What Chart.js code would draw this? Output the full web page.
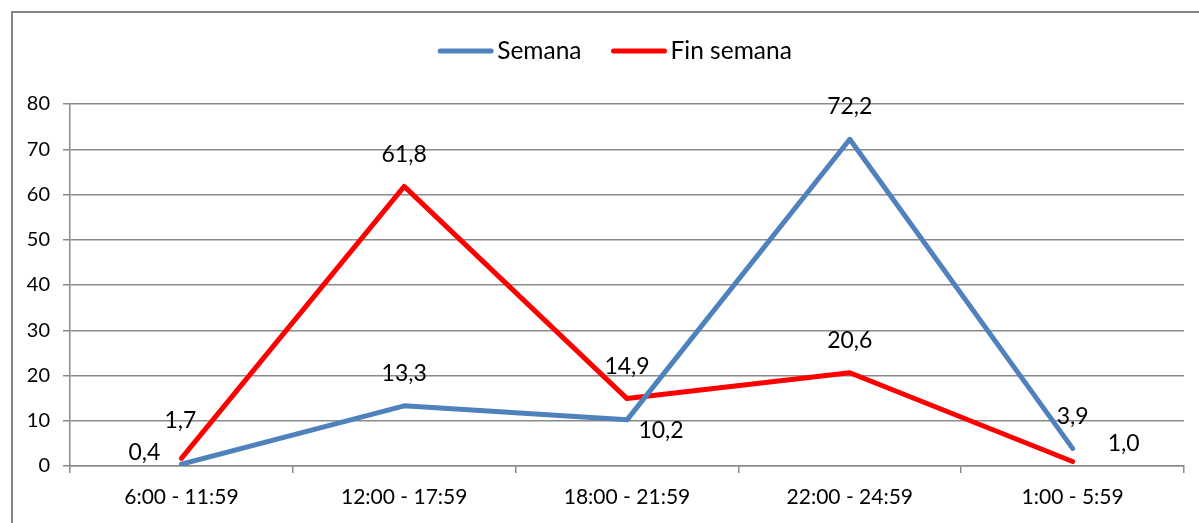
<!DOCTYPE html>
<html>
<head>
<meta charset="utf-8">
<script src="https://cdn.jsdelivr.net/npm/chart.js@4/dist/chart.umd.min.js"></script>
<style>
html,body{margin:0;padding:0;background:#fff;overflow:hidden;}
canvas{display:block;}
</style>
</head>
<body>
<canvas id="c" width="1199" height="523"></canvas>
<script>
// ---- data ----
const categories = ['6:00 - 11:59', '12:00 - 17:59', '18:00 - 21:59', '22:00 - 24:59', '1:00 - 5:59'];
const semanaValues = [0.4, 13.3, 10.2, 72.2, 3.9];
const finSemanaValues = [1.7, 61.8, 14.9, 20.6, 1.0];
const seriesNames = ['Semana', 'Fin semana'];
const yTicks = [0, 10, 20, 30, 40, 50, 60, 70, 80];

// label placement per point (dx, dy in px from the point)
const semanaLabelPos = [[-37, -12], [0, -32], [34, 11], [0, -33], [0, -32]];
const finLabelPos = [[-1, -38], [0, -32], [0, -32], [0, -32], [51, -18]];

const FONT = 'Lato, "Open Sans", sans-serif';
const GRID = '#8a8a8a';

const fmt = v => v.toFixed(1).replace('.', ',');

const decorPlugin = {
  id: 'decor',
  beforeDraw(chart) {
    const ctx = chart.ctx;
    ctx.save();
    ctx.strokeStyle = '#868686';
    ctx.lineWidth = 2;
    ctx.strokeRect(12, 12, 1400, 800);
    ctx.restore();
  },
  afterDatasetsDraw(chart, args, opts) {
    const ctx = chart.ctx;
    ctx.save();
    ctx.font = '23px ' + FONT;
    ctx.fillStyle = '#000';
    ctx.textAlign = 'center';
    ctx.textBaseline = 'middle';
    chart.data.datasets.forEach((ds, di) => {
      const meta = chart.getDatasetMeta(di);
      const pos = opts.positions[di];
      meta.data.forEach((pt, i) => {
        ctx.fillText(fmt(ds.data[i]), pt.x + pos[i][0], pt.y + pos[i][1]);
      });
    });
    // legend
    ctx.font = '24.5px ' + FONT;
    ctx.textAlign = 'left';
    const lineLen = 55, gapText = 4, gapItem = 30, cy = 51;
    const items = chart.data.datasets.map(ds => ({ text: ds.label, color: ds.borderColor, w: ctx.measureText(ds.label).width }));
    let total = 0;
    items.forEach((it, i) => { total += lineLen + gapText + it.w + (i < items.length - 1 ? gapItem : 0); });
    let x = opts.legendCenter - total / 2;
    items.forEach(it => {
      ctx.strokeStyle = it.color;
      ctx.lineWidth = 5;
      ctx.lineCap = 'round';
      ctx.beginPath();
      ctx.moveTo(x + 2, cy);
      ctx.lineTo(x + lineLen - 2, cy);
      ctx.stroke();
      x += lineLen + gapText;
      ctx.fillStyle = '#000';
      ctx.fillText(it.text, x, cy);
      x += it.w + gapItem;
    });
    ctx.restore();
  }
};

new Chart(document.getElementById('c'), {
  type: 'line',
  data: {
    labels: categories,
    datasets: [
      {
        label: seriesNames[0],
        data: semanaValues,
        borderColor: '#4F81BD',
        backgroundColor: '#4F81BD',
        borderWidth: 5,
        pointRadius: 0,
        tension: 0,
        borderCapStyle: 'round',
        borderJoinStyle: 'round'
      },
      {
        label: seriesNames[1],
        data: finSemanaValues,
        borderColor: '#FF0000',
        backgroundColor: '#FF0000',
        borderWidth: 5,
        pointRadius: 0,
        tension: 0,
        borderCapStyle: 'round',
        borderJoinStyle: 'round'
      }
    ]
  },
  options: {
    responsive: false,
    animation: false,
    devicePixelRatio: 1,
    layout: { padding: { left: 13, right: 15, top: 104, bottom: 0 } },
    plugins: {
      legend: { display: false },
      tooltip: { enabled: false },
      decor: { positions: [semanaLabelPos, finLabelPos], legendCenter: 615 }
    },
    scales: {
      x: {
        offset: true,
        grid: { offset: true, drawOnChartArea: false, drawTicks: true, tickLength: 7, color: GRID, lineWidth: 1.5 },
        border: { display: true, color: GRID, width: 1.5 },
        ticks: { color: '#000', font: { family: FONT, size: 21 }, padding: 12, maxRotation: 0, autoSkip: false },
        afterFit: s => { s.height = 57; }
      },
      y: {
        min: yTicks[0],
        max: yTicks[yTicks.length - 1],
        afterBuildTicks: s => { s.ticks = yTicks.map(v => ({ value: v })); },
        grid: { drawTicks: true, tickLength: 7, color: GRID, lineWidth: 1.5 },
        border: { display: true, color: GRID, width: 1.5 },
        ticks: { color: '#000', font: { family: FONT, size: 20 }, padding: 13 },
        afterFit: s => { s.width = 57; }
      }
    }
  },
  plugins: [decorPlugin]
});
</script>
</body>
</html>
